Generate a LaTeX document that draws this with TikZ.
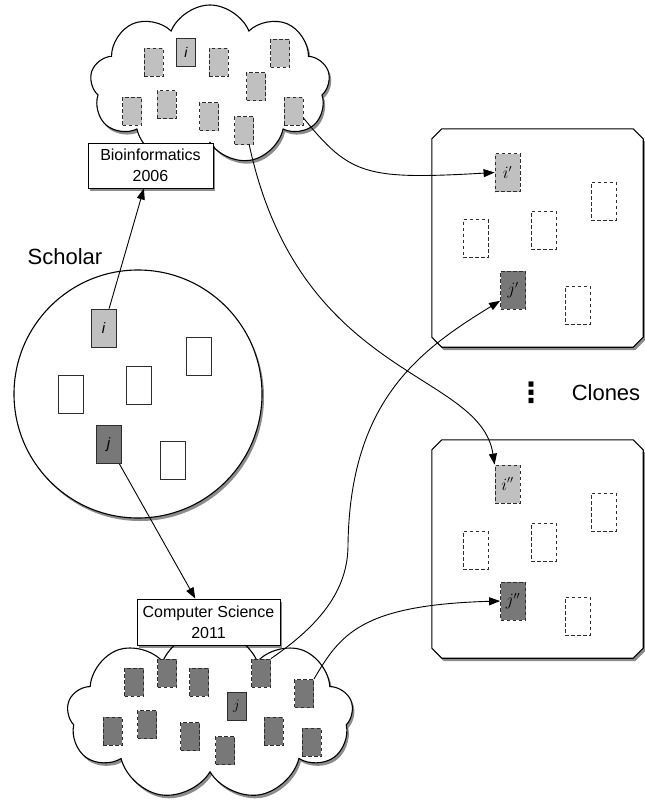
\documentclass[tikz,border=0pt]{standalone}
\usepackage{fontspec}
\setmainfont{Liberation Sans}
\newfontfamily\dejavu{DejaVu Sans}
\usetikzlibrary{shapes.symbols,shadows,arrows.meta,calc}
\definecolor{lg}{RGB}{192,192,192}
\definecolor{dg}{RGB}{120,120,120}
\definecolor{edge}{RGB}{45,45,45}
\begin{document}
\begin{tikzpicture}[x=1pt,y=-1pt,
  shad/.style={drop shadow={shadow xshift=2pt,shadow yshift=-3pt,opacity=0.45,fill=black}},
  doc/.style={draw=edge,line width=0.8pt,inner sep=0pt,minimum width=19pt,minimum height=28pt,font=\fontsize{14}{14}\selectfont\itshape},
  bigdoc/.style={doc,minimum width=25pt,minimum height=38pt,font=\fontsize{16}{16}\selectfont},
  dsh/.style={dash pattern=on 3.5pt off 2.5pt},
  lgf/.style={fill=lg},
  dgf/.style={fill=dg},
  arr/.style={-{Triangle[length=11pt,width=8pt]},line width=0.9pt},
  lbl/.style={draw,fill=white,line width=0.9pt,align=center,inner sep=0pt,font=\fontsize{16}{21}\selectfont,shad},
  puff/.style={cloud,cloud puffs=9,cloud puff arc=135,cloud ignores aspect,draw,line width=1.1pt,fill=white,shad},
  boxarea/.style={rectangle,minimum width=211pt,minimum height=218pt,inner sep=0pt},
  boxline/.style={draw,line width=1.1pt,fill=white,shad}
]
\useasboundingbox (0,0) rectangle (645,803);

% ---------- top cloud ----------
\node[puff,minimum width=240pt,minimum height=160pt] (cloudA) at (210,85) {};
\node[doc,dsh,lgf] (t1) at (153.5,62) {};
\node[doc,lgf] (ti) at (186,52.5) {i};
\node[doc,dsh,lgf] (t3) at (218.5,62) {};
\node[doc,dsh,lgf] (t4) at (280,53) {};
\node[doc,dsh,lgf] (t5) at (256,86.5) {};
\node[doc,dsh,lgf] (t6) at (132,111) {};
\node[doc,dsh,lgf] (t7) at (166.5,104.5) {};
\node[doc,dsh,lgf] (t8) at (209,116.5) {};
\node[doc,dsh,lgf] (t9) at (244,130.5) {};
\node[doc,dsh,lgf] (t10) at (293.5,111) {};
\node[lbl,minimum width=125pt,minimum height=45pt] (labA) at (150.5,165.5) {Bioinformatics\\2006};

% ---------- scholar ----------
\node[font=\fontsize{22}{22}\selectfont] (scholar) at (65,257) {Scholar};
\node[circle,draw,line width=1.1pt,fill=white,minimum size=248pt,inner sep=0pt,shad] (sch) at (138,394) {};
\node[bigdoc,lgf,font=\fontsize{15}{15}\selectfont\itshape] (ci) at (103.5,328) {i};
\node[bigdoc,fill=white] (c2) at (198.5,356) {};
\node[bigdoc,fill=white] (c3) at (70.5,394) {};
\node[bigdoc,fill=white] (c4) at (138.5,385.5) {};
\node[bigdoc,dgf,font=\fontsize{15}{15}\selectfont\itshape] (cj) at (108.5,444.5) {j};
\node[bigdoc,fill=white] (c6) at (172.5,460) {};

% ---------- bottom cloud ----------
\node[puff,minimum width=286pt,minimum height=170pt] (cloudB) at (210,715) {};
\node[doc,dsh,dgf] (b1) at (134,682) {};
\node[doc,dsh,dgf] (b2) at (167,673) {};
\node[doc,dsh,dgf] (b3) at (199,682) {};
\node[doc,dsh,dgf] (b4) at (261,673) {};
\node[doc,dsh,dgf] (b5) at (304,693.5) {};
\node[doc,dgf,font=\fontsize{15}{15}\selectfont] (bj) at (236.5,706.5) {$j$};
\node[doc,dsh,dgf] (b7) at (112.5,731) {};
\node[doc,dsh,dgf] (b8) at (147,724.5) {};
\node[doc,dsh,dgf] (b9) at (190,736.5) {};
\node[doc,dsh,dgf] (b10) at (225,750.5) {};
\node[doc,dsh,dgf] (b11) at (273.5,731) {};
\node[doc,dsh,dgf] (b12) at (311.5,742) {};
\node[lbl,minimum width=143pt,minimum height=46pt] (labB) at (208.5,622) {Computer Science\\2011};

% ---------- clone boxes ----------
\node[boxarea] (boxA) at (537.5,238) {};
\draw[boxline] ($(boxA.north west)+(10,0)$) -- ($(boxA.north east)+(-10,0)$)
  -- ($(boxA.north east)+(0,10)$) -- ($(boxA.south east)+(0,-10)$)
  -- ($(boxA.south east)+(-10,0)$) -- ($(boxA.south west)+(10,0)$)
  -- ($(boxA.south west)+(0,-10)$) -- ($(boxA.north west)+(0,10)$) -- cycle;
\node[bigdoc,dsh,lgf] (ip) at (507.5,172.5) {$i'$};
\node[bigdoc,dsh] (r2) at (603.5,201) {};
\node[bigdoc,dsh] (r3) at (543.5,230) {};
\node[bigdoc,dsh] (r4) at (475.5,238.5) {};
\node[bigdoc,dsh,dgf] (jp) at (513,290) {$j'$};
\node[bigdoc,dsh] (r6) at (577.5,305) {};

\node[boxarea] (boxB) at (537.5,549) {};
\draw[boxline] ($(boxB.north west)+(10,0)$) -- ($(boxB.north east)+(-10,0)$)
  -- ($(boxB.north east)+(0,10)$) -- ($(boxB.south east)+(0,-10)$)
  -- ($(boxB.south east)+(-10,0)$) -- ($(boxB.south west)+(10,0)$)
  -- ($(boxB.south west)+(0,-10)$) -- ($(boxB.north west)+(0,10)$) -- cycle;
\node[bigdoc,dsh,lgf] (ipp) at (507.5,484) {$i''$};
\node[bigdoc,dsh] (s2) at (603.5,512) {};
\node[bigdoc,dsh] (s3) at (543.5,542) {};
\node[bigdoc,dsh] (s4) at (475.5,550) {};
\node[bigdoc,dsh,dgf] (jpp) at (513,601) {$j''$};
\node[bigdoc,dsh] (s6) at (577.5,616) {};

\node[font=\dejavu\bfseries\fontsize{28}{28}\selectfont] (dots) at (531,393) {⋮};
\node[font=\fontsize{22}{22}\selectfont] (clones) at (606,393) {Clones};

% ---------- connectors ----------
\draw[arr] (ci) -- (labA);
\draw[arr] (cj) -- (labB);
\draw[arr] (t10.-35) .. controls (350,175) and (365,180) .. (ip.west);
\draw[arr] (t9.-70) .. controls (300,380) and (480,370) .. (ipp.north west);
\draw[arr] (b4.north east) .. controls (320,625) and (348,590) .. (348,545)
   .. controls (350,400) and (420,350) .. (jp.220);
\draw[arr] (b5.north east) .. controls (340,635) and (360,605) .. (jpp.west);
\end{tikzpicture}
\end{document}
